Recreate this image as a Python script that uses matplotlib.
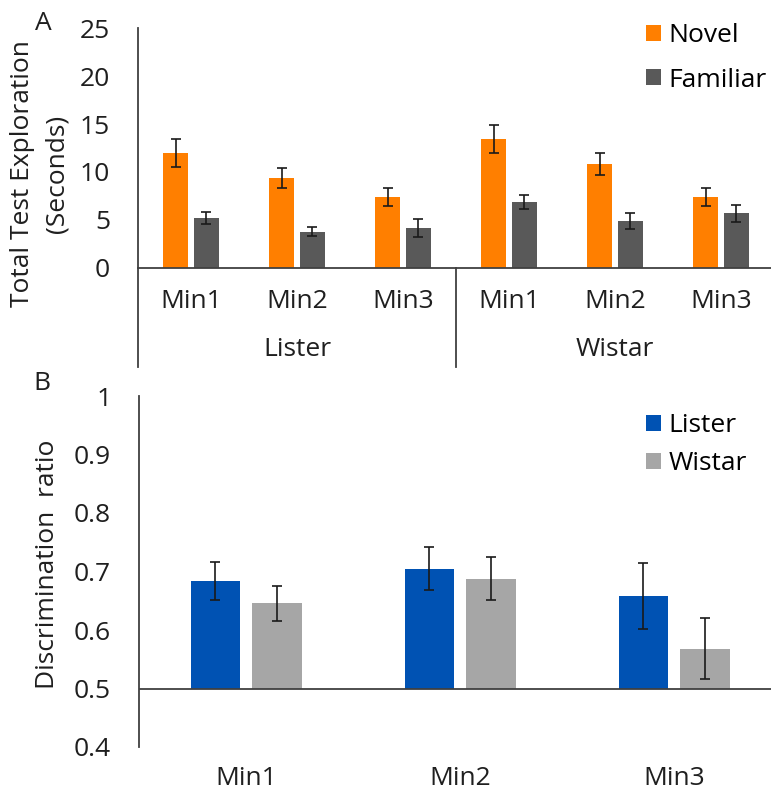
import matplotlib
matplotlib.use("Agg")
import matplotlib.pyplot as plt
import numpy as np

plt.rcParams['font.family'] = ['Open Sans', 'DejaVu Sans']

# panel A data
cats_a = ["Min1", "Min2", "Min3", "Min1", "Min2", "Min3"]
strains = ["Lister", "Wistar"]
novel = [12.0, 9.4, 7.4, 13.4, 10.8, 7.4]
novel_err = [1.45, 1.05, 0.95, 1.45, 1.15, 0.9]
familiar = [5.2, 3.8, 4.2, 6.9, 4.9, 5.7]
familiar_err = [0.65, 0.45, 0.93, 0.75, 0.8, 0.9]

# panel B data
cats_b = ["Min1", "Min2", "Min3"]
lister_dr = [0.684, 0.705, 0.658]
lister_err = [0.033, 0.037, 0.057]
wistar_dr = [0.646, 0.688, 0.568]
wistar_err = [0.03, 0.037, 0.052]

c_novel = '#FF7F00'
c_fam = '#595959'
c_lister = '#0052B3'
c_wistar = '#A6A6A6'
axc = '#404040'
txt = '#1f1f1f'
fs = 19

W, H = 771, 795
fig = plt.figure(figsize=(W / 100, H / 100), dpi=100)

def px_axes(l, r, t, b):
    return fig.add_axes([l / W, 1 - b / H, (r - l) / W, (b - t) / H])

# ---- panel A
ax1 = px_axes(138, 774, 28, 268)
x = np.arange(len(cats_a))
bw = 0.236
ekw = dict(ecolor='#1a1a1a', elinewidth=1.2, capsize=3.5, capthick=1.2)
ax1.bar(x - 0.142, novel, bw, yerr=novel_err, color=c_novel, label='Novel', error_kw=ekw)
ax1.bar(x + 0.142, familiar, bw, yerr=familiar_err, color=c_fam, label='Familiar', error_kw=ekw)
ax1.set_xlim(-0.5, 5.5)
ax1.set_ylim(0, 25)
ax1.set_yticks([0, 5, 10, 15, 20, 25])
ax1.set_xticks(x)
ax1.set_xticklabels(cats_a)
for s in ['top', 'right']:
    ax1.spines[s].set_visible(False)
for s in ['left', 'bottom']:
    ax1.spines[s].set_color(axc)
    ax1.spines[s].set_linewidth(1.3)
ax1.tick_params(axis='both', length=0, labelsize=fs, colors=txt)
ax1.tick_params(axis='y', pad=20)
ax1.tick_params(axis='x', pad=15)
# extended category separators
ax1.plot([-0.5, -0.5], [0, -10.3], color=axc, lw=1.3, clip_on=False)
ax1.plot([2.5, 2.5], [0, -10.3], color=axc, lw=1.3, clip_on=False)
ax1.text(1, -8.5, strains[0], ha='center', va='center', fontsize=fs, color=txt)
ax1.text(4, -8.5, strains[1], ha='center', va='center', fontsize=fs, color=txt)
ax1.legend(loc='upper left', bbox_to_anchor=(633 / W, 1 - 10 / H), bbox_transform=fig.transFigure,
           frameon=False, fontsize=fs, handlelength=0.55, handleheight=0.55,
           handletextpad=0.3, labelspacing=0.74, borderpad=0)

fig.text(23 / W, 1 - 174 / H, 'Total Test Exploration', rotation=90, ha='center', va='center',
         fontsize=fs, color=txt)
fig.text(57 / W, 1 - 174 / H, '(Seconds)', rotation=90, ha='center', va='center',
         fontsize=fs, color=txt)
fig.text(43 / W, 1 - 23 / H, 'A', ha='center', va='center', fontsize=fs, color=txt)

# ---- panel B
ax2 = px_axes(139, 781, 396, 747)
xb = np.arange(len(cats_b))
bw2 = 0.23
ax2.bar(xb - 0.143, np.array(lister_dr) - 0.5, bw2, bottom=0.5, yerr=lister_err,
        color=c_lister, label='Lister', error_kw=ekw)
ax2.bar(xb + 0.145, np.array(wistar_dr) - 0.5, bw2, bottom=0.5, yerr=wistar_err,
        color=c_wistar, label='Wistar', error_kw=ekw)
ax2.set_xlim(-0.5, 2.5)
ax2.set_ylim(0.4, 1.0)
ax2.set_yticks([0.4, 0.5, 0.6, 0.7, 0.8, 0.9, 1.0])
ax2.set_yticklabels(['0.4', '0.5', '0.6', '0.7', '0.8', '0.9', '1'])
ax2.set_xticks(xb)
ax2.set_xticklabels(cats_b)
ax2.axhline(0.5, color=axc, lw=1.3)
for s in ['top', 'right', 'bottom']:
    ax2.spines[s].set_visible(False)
ax2.spines['left'].set_color(axc)
ax2.spines['left'].set_linewidth(1.3)
ax2.tick_params(axis='both', length=0, labelsize=fs, colors=txt)
ax2.tick_params(axis='y', pad=20)
ax2.tick_params(axis='x', pad=14)
ax2.legend(loc='upper left', bbox_to_anchor=(633 / W, 1 - 400 / H), bbox_transform=fig.transFigure,
           frameon=False, fontsize=fs, handlelength=0.55, handleheight=0.55,
           handletextpad=0.3, labelspacing=0.49, borderpad=0)
fig.text(48 / W, 1 - 564 / H, 'Discrimination  ratio', rotation=90, ha='center', va='center',
         fontsize=fs, color=txt)
fig.text(42 / W, 1 - 383 / H, 'B', ha='center', va='center', fontsize=fs, color=txt)

fig.savefig('out.png', dpi=100)
